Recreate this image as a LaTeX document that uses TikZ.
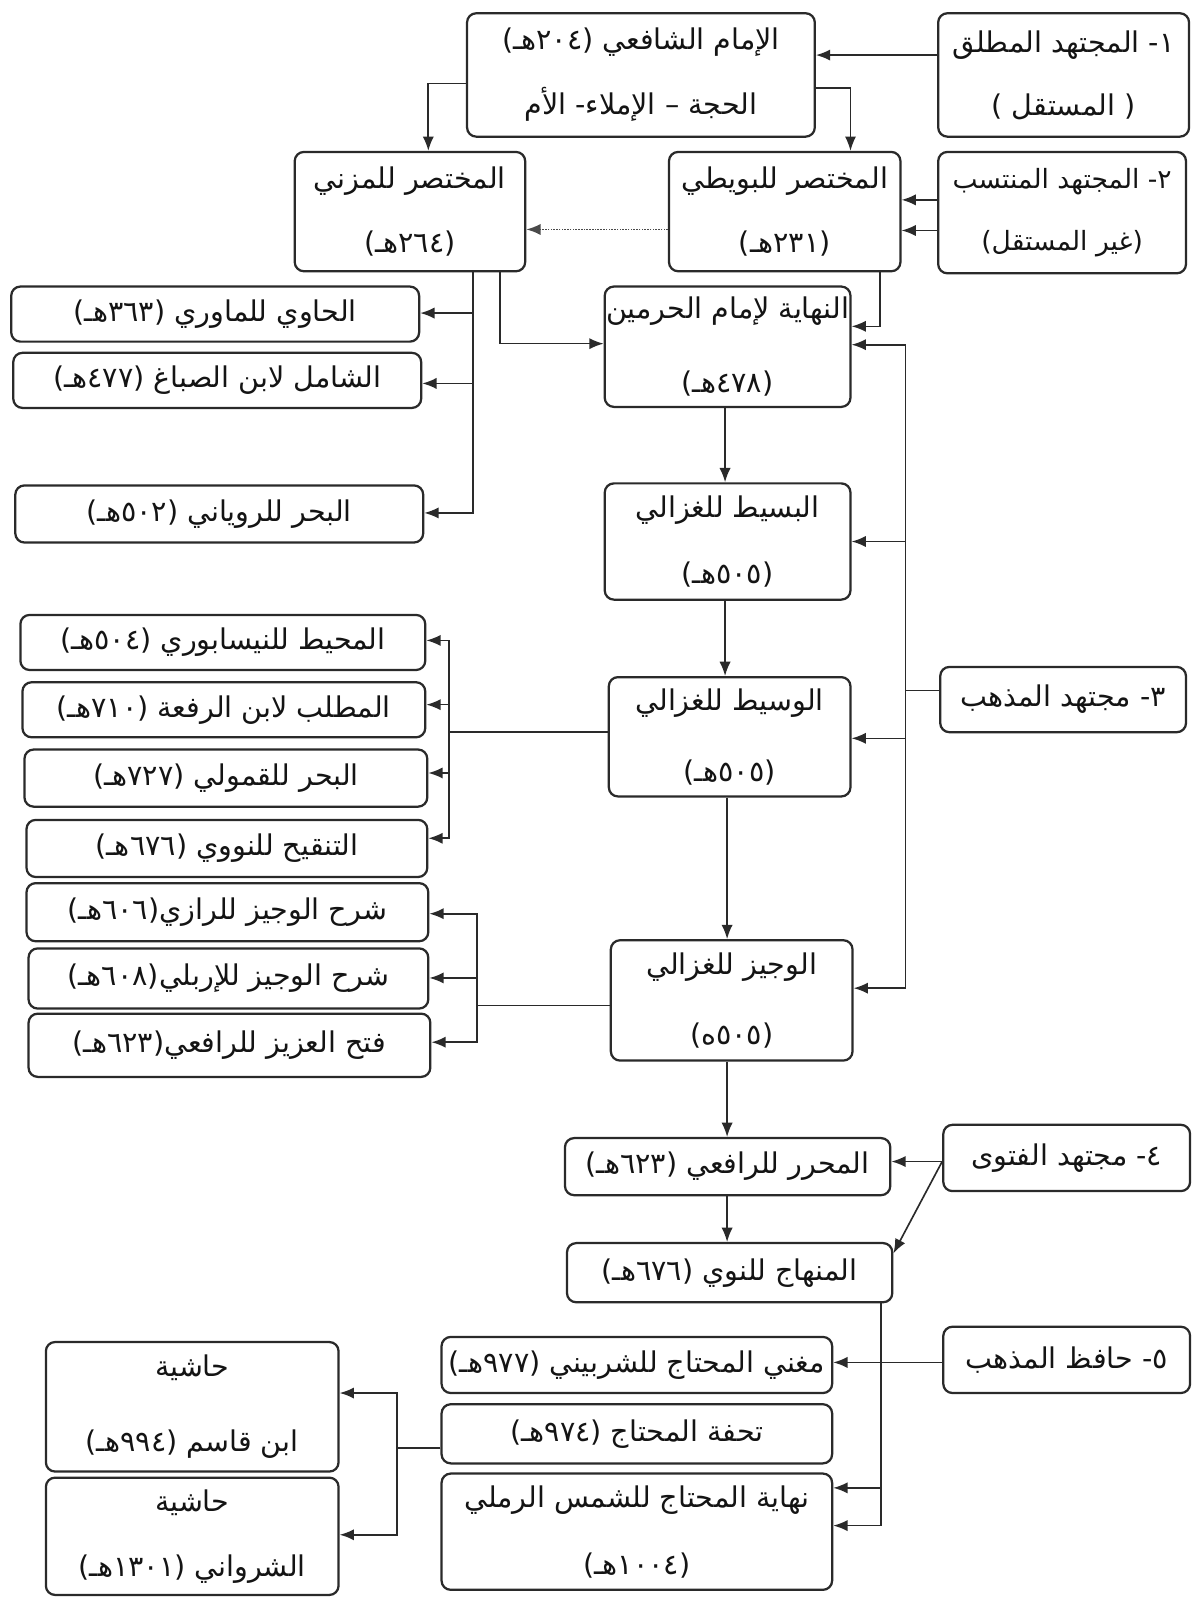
\documentclass[tikz,border=0pt]{standalone}
\usepackage{fontspec}
\usetikzlibrary{arrows.meta,calc}
\newfontfamily\arabicfont[Script=Arabic]{DejaVu Sans}
\TeXXeTstate=1
\newcommand\AR[1]{\beginR #1\endR}
\definecolor{ink}{HTML}{141414}
\definecolor{edge}{HTML}{2A2A2A}
\begin{document}
\begin{tikzpicture}[x=1pt,y=-1pt,
  box/.style={draw=edge, line width=2.2pt, rounded corners=9pt, inner sep=0pt, align=center, text=ink, font=\arabicfont\fontsize{28}{33}\selectfont},
  smalltext/.style={font=\arabicfont\fontsize{26}{33}\selectfont},
  arr/.style={draw=edge, line width=1.6pt, -{Latex[length=14pt,width=11pt]}},
  dots/.style={draw=edge!85, line width=1.6pt, dash pattern=on 1.5pt off 1.2pt, -{Latex[length=14pt,width=11pt]}},
]
\fill[white] (0,0) rectangle (1170,1568);
\useasboundingbox (0,0) rectangle (1170,1568);

% boxes
\node[box, minimum width=341pt, minimum height=121pt] (shafii) at (628.5,73.5) {\AR{الإمام الشافعي (٢٠٤هـ)}\\[29pt]\AR{الحجة – الإملاء- الأم}};
\node[box, minimum width=246pt, minimum height=121pt] (mutlaq) at (1043,73.5) {\AR{١\kern0pt- المجتهد المطلق}\\[29pt]\AR{( المستقل )}};
\node[box, minimum width=226pt, minimum height=117pt] (muzani) at (402,207.5) {\AR{المختصر للمزني}\\[30pt]\AR{(٢٦٤هـ)}};
\node[box, minimum width=227pt, minimum height=117pt] (buwayti) at (769.5,207.5) {\AR{المختصر للبويطي}\\[30pt]\AR{(٢٣١هـ)}};
\node[box, smalltext, minimum width=243pt, minimum height=119pt] (muntasib) at (1041.5,208.5) {\AR{٢\kern0pt- المجتهد المنتسب}\\[27pt]\AR{(غير المستقل)}};
\node[box, minimum width=400pt, minimum height=54pt] (hawi) at (211,308) {\AR{الحاوي للماوري (٣٦٣هـ)}};
\node[box, minimum width=400pt, minimum height=54pt] (shamil) at (213,373) {\AR{الشامل لابن الصباغ (٤٧٧هـ)}};
\node[box, minimum width=400pt, minimum height=56pt] (bahrA) at (215,504) {\AR{البحر للروياني (٥٠٢هـ)}};
\node[box, minimum width=241pt, minimum height=118pt] (nihaya) at (713.5,340) {\AR{النهاية لإمام الحرمين}\\[39pt]\AR{(٤٧٨هـ)}};
\node[box, minimum width=241pt, minimum height=114pt] (basit) at (713.5,531) {\AR{البسيط للغزالي}\\[32pt]\AR{(٥٠٥هـ)}};
\node[box, minimum width=241pt, minimum height=64pt] (madhhab) at (1042.5,686) {\AR{٣\kern0pt- مجتهد المذهب}};
\node[box, minimum width=237pt, minimum height=117pt] (wasit) at (715.5,722.5) {\AR{الوسيط للغزالي}\\[37pt]\AR{(٥٠٥هـ)}};
\node[box, minimum width=397pt, minimum height=54pt] (muhit) at (218.5,630) {\AR{المحيط للنيسابوري (٥٠٤هـ)}};
\node[box, minimum width=395pt, minimum height=54pt] (matlab) at (219.5,696) {\AR{المطلب لابن الرفعة (٧١٠هـ)}};
\node[box, minimum width=395pt, minimum height=56pt] (qamuli) at (221.5,763) {\AR{البحر للقمولي (٧٢٧هـ)}};
\node[box, minimum width=393pt, minimum height=56pt] (tanqih) at (222.5,832) {\AR{التنقيح للنووي (٦٧٦هـ)}};
\node[box, minimum width=394pt, minimum height=57pt] (razi) at (223,894.5) {\AR{شرح الوجيز للرازي(٦٠٦هـ)}};
\node[box, minimum width=392pt, minimum height=59pt] (irbili) at (224,959.5) {\AR{شرح الوجيز للإربلي(٦٠٨هـ)}};
\node[box, minimum width=394pt, minimum height=62pt] (fath) at (225,1025) {\AR{فتح العزيز للرافعي(٦٢٣هـ)}};
\node[box, minimum width=237pt, minimum height=118pt] (wajiz) at (717.5,981) {\AR{الوجيز للغزالي}\\[36pt]\AR{(٥٠٥ه)}};
\node[box, minimum width=319pt, minimum height=56pt] (muharrar) at (713.5,1144) {\AR{المحرر للرافعي (٦٢٣هـ)}};
\node[box, minimum width=242pt, minimum height=65pt] (fatwa) at (1046,1135.5) {\AR{٤\kern0pt- مجتهد الفتوى}};
\node[box, minimum width=319pt, minimum height=58pt] (minhaj) at (715.5,1248) {\AR{المنهاج للنوي (٦٧٦هـ)}};
\node[box, minimum width=383pt, minimum height=55pt] (mughni) at (624.5,1338.5) {\AR{مغني المحتاج للشربيني (٩٧٧هـ)}};
\node[box, minimum width=242pt, minimum height=65pt] (hafiz) at (1046,1333.5) {\AR{٥\kern0pt- حافظ المذهب}};
\node[box, minimum width=383pt, minimum height=58pt] (tuhfa) at (624.5,1406) {\AR{تحفة المحتاج (٩٧٤هـ)}};
\node[box, minimum width=383pt, minimum height=114pt] (nmuhtaj) at (624.5,1502) {\AR{نهاية المحتاج للشمس الرملي}\\[33pt]\AR{(١٠٠٤هـ)}};
\node[box, minimum width=287pt, minimum height=127pt] (hqasim) at (188.5,1379.5) {\AR{حاشية}\\[41pt]\AR{ابن قاسم (٩٩٤هـ)}};
\node[box, minimum width=287pt, minimum height=115pt] (hshirwani) at (188.5,1506.5) {\AR{حاشية}\\[31pt]\AR{الشرواني (١٣٠١هـ)}};

% bend coordinates
\coordinate (v3) at (888,677);
\coordinate (v4) at (440,718);
\coordinate (v5) at (468,986);
\coordinate (v6) at (389,1420);

% connectors
\draw[arr] (mutlaq.west |- 0,54) -- (shafii.east |- 0,54);
\draw[arr] (shafii.west |- 0,82) -| (420,0 |- muzani.north);
\draw[arr] (shafii.east |- 0,86) -| (834,0 |- buwayti.north);
\draw[dots] (buwayti.west |- 0,225) -- (muzani.east |- 0,225);
\draw[arr] (muntasib.west |- 0,196) -- (buwayti.east |- 0,196);
\draw[arr] (muntasib.west |- 0,226) -- (buwayti.east |- 0,226);

\draw[arr] (464,0 |- muzani.south) |- (hawi.east |- 0,307);
\draw[arr] (464,0 |- muzani.south) |- (shamil.east |- 0,376);
\draw[arr] (464,0 |- muzani.south) |- (bahrA.east |- 0,503);
\draw[arr] (490,0 |- muzani.south) |- (nihaya.west |- 0,337);
\draw[arr] (863,0 |- buwayti.south) |- (nihaya.east |- 0,320);

\draw[arr] (madhhab.west |- v3) -- (v3) |- (nihaya.east |- 0,338);
\draw[arr] (madhhab.west |- v3) -- (v3) |- (basit.east |- 0,531);
\draw[arr] (madhhab.west |- v3) -- (v3) |- (wasit.east |- 0,724);
\draw[arr] (madhhab.west |- v3) -- (v3) |- (wajiz.east |- 0,969);

\draw[arr] (711,0 |- nihaya.south) -- (711,0 |- basit.north);
\draw[arr] (711,0 |- basit.south) -- (711,0 |- wasit.north);
\draw[arr] (713,0 |- wasit.south) -- (713,0 |- wajiz.north);

\draw[arr] (wasit.west |- v4) -- (v4) |- (muhit.east |- 0,628);
\draw[arr] (wasit.west |- v4) -- (v4) |- (matlab.east |- 0,691);
\draw[arr] (wasit.west |- v4) -- (v4) |- (qamuli.east |- 0,758);
\draw[arr] (wasit.west |- v4) -- (v4) |- (tanqih.east |- 0,822);

\draw[arr] (wajiz.west |- v5) -- (v5) |- (razi.east |- 0,896);
\draw[arr] (wajiz.west |- v5) -- (v5) |- (irbili.east |- 0,959);
\draw[arr] (wajiz.west |- v5) -- (v5) |- (fath.east |- 0,1022);

\draw[arr] (713,0 |- wajiz.south) -- (713,0 |- muharrar.north);
\draw[arr] (fatwa.west |- 0,1139) -- (muharrar.east |- 0,1139);
\draw[arr] (fatwa.west |- 0,1139) -- (minhaj.east |- 0,1229);
\draw[arr] (713,0 |- muharrar.south) -- (713,0 |- minhaj.north);

\draw[arr] (hafiz.west |- 0,1336) -- (mughni.east |- 0,1336);
\draw[arr] (864,0 |- minhaj.south) |- (nmuhtaj.east |- 0,1459);
\draw[arr] (864,0 |- minhaj.south) |- (nmuhtaj.east |- 0,1496);

\draw[arr] (tuhfa.west |- v6) -- (v6) |- (hqasim.east |- 0,1366);
\draw[arr] (tuhfa.west |- v6) -- (v6) |- (hshirwani.east |- 0,1505);
\end{tikzpicture}
\end{document}
